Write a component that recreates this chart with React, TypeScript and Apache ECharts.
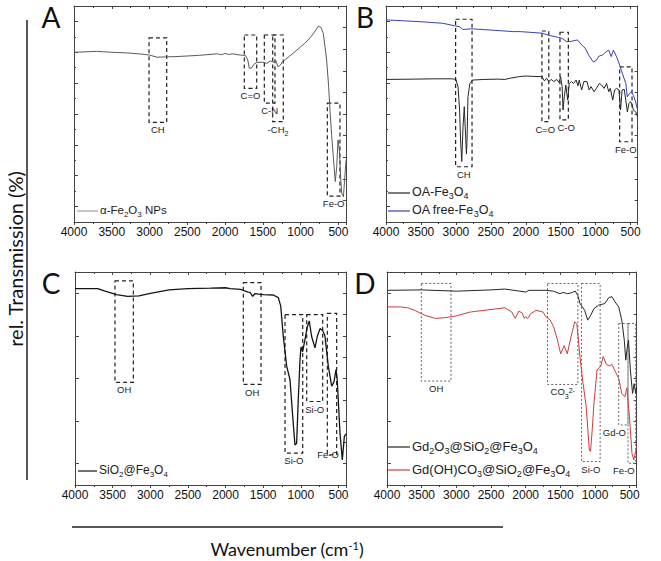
import React, { useEffect, useRef } from 'react';
import * as echarts from 'echarts';

// ---------- data (wavenumber in cm-1, relative transmission in arbitrary units) ----------
const waveA = [4000,3800,3700,3500,3300,3100,3000,2900,2800,2650,2500,2350,2200,2100,2050,2000,1950,1900,1800,1730,1700,1680,1650,1620,1580,1500,1450,1400,1350,1330,1300,1270,1240,1200,1150,1100,1050,1000,950,900,850,800,766,730,700,656,630,612,590,568,542,523,506,488,470,457,434,420,400];
const transA = [5.50,5.52,5.53,5.50,5.48,5.44,5.41,5.34,5.35,5.36,5.38,5.40,5.43,5.45,5.42,5.46,5.43,5.45,5.41,5.40,5.25,4.98,4.99,5.11,5.17,5.18,5.14,5.22,5.17,5.24,5.03,5.08,5.20,5.27,5.37,5.47,5.57,5.68,5.78,5.90,6.05,6.22,6.35,6.30,6.11,5.25,4.40,3.63,2.80,2.12,1.31,1.79,2.66,2.33,1.40,0.93,0.82,1.30,2.00];

const waveB1 = [4000,3600,3300,3050,3000,2969,2947,2933,2916,2898,2880,2867,2849,2840,2827,2800,2760,2600,2400,2300,2222,2100,2000,1900,1769,1733,1702,1671,1636,1600,1556,1524,1502,1480,1467,1449,1427,1413,1400,1378,1347,1316,1280,1253,1236,1200,1169,1124,1093,1067,1022,991,947,916,880,844,813,791,756,729,702,667,644,622,591,569,547,524,502,480,458,427,400];
const transB1 = [4.62,4.63,4.64,4.64,4.62,4.38,3.63,2.66,1.96,3.09,3.74,3.09,2.20,2.70,4.06,4.49,4.60,4.62,4.63,4.62,4.66,4.71,4.73,4.72,4.71,4.57,4.66,4.55,4.62,4.55,4.62,4.52,4.71,4.39,3.63,4.06,4.44,4.17,3.95,4.49,4.55,4.49,4.60,4.41,4.60,4.28,4.55,4.55,4.28,4.39,4.22,4.33,4.49,4.44,4.33,4.49,4.22,4.33,3.95,4.28,4.33,4.28,3.63,4.28,4.30,3.95,3.57,3.84,3.90,3.80,3.62,3.57,3.41];

const waveB2 = [4000,3500,3187,3000,2950,2900,2770,2500,2178,2080,1769,1650,1547,1480,1413,1340,1260,1200,1150,1100,1036,1000,950,902,850,813,778,747,700,658,610,569,547,520,489,460,436,400];
const transB2 = [6.55,6.49,6.44,6.35,6.33,6.24,6.26,6.22,6.17,6.17,6.12,6.04,5.99,5.95,5.84,5.86,5.90,5.74,5.63,5.41,5.19,5.22,5.38,5.41,5.52,5.57,5.36,5.57,5.35,5.09,4.76,4.49,4.06,4.15,4.22,4.10,3.95,3.63];

const waveC = [4000,3700,3600,3450,3300,3150,3000,2750,2500,2200,2000,1941,1800,1700,1675,1640,1609,1560,1498,1366,1299,1267,1233,1188,1144,1108,1078,1056,1034,1011,998,976,945,914,888,856,812,781,745,710,679,635,590,559,533,516,480,449,422,400];
const transC = [4.61,4.61,4.55,4.47,4.43,4.44,4.50,4.58,4.61,4.62,4.63,4.61,4.59,4.53,4.52,4.43,4.49,4.48,4.47,4.46,4.40,4.20,3.49,2.79,2.47,1.61,0.94,0.98,2.00,2.94,3.24,3.13,3.41,3.71,3.85,3.48,3.22,3.49,3.67,3.63,3.49,2.79,2.32,2.42,2.71,2.46,1.22,0.59,1.14,1.20];

const waveD1 = [4000,3500,3000,2500,2300,2000,1952,1700,1600,1507,1461,1394,1328,1284,1248,1216,1150,1105,1060,1016,949,859,801,757,712,658,614,578,556,534,517,490,458,436,413,400];
const transD1 = [4.57,4.58,4.55,4.58,4.60,4.53,4.57,4.57,4.55,4.49,4.52,4.49,4.52,4.55,4.45,4.26,4.10,3.87,3.99,4.14,4.22,4.26,4.40,4.42,4.30,4.18,3.87,3.40,2.93,3.24,3.40,2.70,2.15,2.38,2.15,2.30];

const waveD2 = [4000,3800,3700,3600,3450,3300,3150,3000,2800,2500,2300,2200,2150,2100,2050,2020,2000,1970,1930,1850,1750,1707,1650,1596,1550,1495,1445,1400,1350,1293,1262,1216,1172,1127,1082,1065,1040,1016,971,918,882,837,793,757,703,658,614,569,540,503,467,440,400];
const transD2 = [4.18,4.18,4.16,4.10,3.98,3.91,3.93,3.97,4.06,4.12,4.16,4.06,3.91,4.08,4.04,3.91,3.95,3.91,4.02,4.10,4.06,3.95,3.88,3.71,3.45,3.08,3.27,3.08,3.45,3.83,3.78,2.99,2.38,1.84,0.82,0.79,1.30,1.90,2.70,2.78,3.02,2.83,2.80,2.83,2.65,2.50,2.15,2.07,2.28,1.60,0.74,0.59,0.90];

// annotation boxes: [label, wavenumber from, wavenumber to, upper value, lower value]
const boxesA: [string, number, number, number, number][] = [
  ['{n|CH}', 3007, 2773, 5.97, 3.23],
  ['{n|C=O}', 1746, 1582, 6.06, 4.33],
  ['{n|C-N}', 1481, 1340, 6.06, 3.85],
  ['{n|-CH}{s|2}', 1370, 1230, 6.06, 3.25],
  ['{n|Fe-O}', 647, 480, 3.85, 0.84],
];
const boxesB: [string, number, number, number, number][] = [
  ['{n|CH}', 3004, 2769, 6.57, 1.79],
  ['{n|C=O}', 1769, 1671, 6.19, 3.25],
  ['{n|C-O}', 1511, 1391, 6.15, 3.31],
  ['{n|Fe-O}', 657, 480, 5.03, 2.60],
];
const boxesC: [string, number, number, number, number][] = [
  ['{n|OH}', 3469, 3225, 4.79, 2.41],
  ['{n|OH}', 1764, 1529, 4.75, 2.36],
  ['{n|Si-O}', 1210, 975, 4.00, 0.75],
  ['{n|Si-O}', 922, 710, 4.00, 1.96],
  ['{n|Fe-O}', 648, 524, 4.03, 0.71],
];
const boxesD: [string, number, number, number, number][] = [
  ['{n|OH}', 3505, 3077, 4.73, 2.44],
  ['{n|CO}{s|3}{p|2-}', 1685, 1247, 4.73, 2.36],
  ['{n|Si-O}', 1194, 926, 4.73, 0.55],
  ['{n|Gd-O}', 658, 524, 3.79, 1.41],
  ['{n|Fe-O}', 524, 413, 3.79, 0.51],
];

const FONT = '"Liberation Sans", Arial, sans-serif';
const TFONT = 'Lato, "Open Sans", sans-serif';

const GRIDS = [
  { left: 74, top: 6, width: 272, height: 216 },
  { left: 386, top: 6, width: 270, height: 216 },
  { left: 75, top: 272, width: 271, height: 213 },
  { left: 387, top: 272, width: 269, height: 213 },
];

const AX = '#444';

function xAxes(g: number) {
  const base = {
    type: 'value', gridIndex: g, min: 400, max: 4000, inverse: true,
    splitNumber: 7, minInterval: 500, maxInterval: 500,
    axisLine: { show: true, onZero: false, lineStyle: { color: AX, width: 1 } },
    splitLine: { show: false },
    minorSplitLine: { show: false },
  };
  return [
    {
      ...base, position: 'bottom',
      axisTick: { show: true, inside: false, length: 3, lineStyle: { color: AX } },
      minorTick: { show: true, splitNumber: 2, length: 2, lineStyle: { color: AX } },
      axisLabel: {
        show: true, margin: 4, fontSize: 12, color: '#111', fontFamily: FONT,
        formatter: (v: number) => (v === 400 ? '' : String(v)),
      },
    },
    {
      ...base, position: 'top',
      axisTick: { show: true, inside: true, length: 3, lineStyle: { color: AX } },
      minorTick: { show: true, splitNumber: 2, length: 2, lineStyle: { color: AX } },
      axisLabel: { show: false },
    },
  ];
}

function yAxes(g: number) {
  const tall = g < 2;
  const common = {
    type: 'value', gridIndex: g, min: 0,
    axisLine: { show: true, onZero: false, lineStyle: { color: AX, width: 1 } },
    axisLabel: { show: false },
    splitLine: { show: false },
    minorSplitLine: { show: false },
  };
  return [
    {
      ...common, position: 'left', max: tall ? 7 : 5, interval: 1,
      axisTick: { show: tall, inside: true, length: 2, lineStyle: { color: AX } },
      minorTick: { show: true, splitNumber: 2, length: 4, lineStyle: { color: AX } },
    },
    {
      ...common, position: 'right', max: tall ? 10 : 5, interval: tall ? 1 : 0.5,
      axisTick: { show: true, inside: true, length: 3, lineStyle: { color: AX } },
    },
  ];
}

const pairs = (w: number[], v: number[]) => w.map((x, i) => [x, v[i]]);

const areaRich = {
  n: { fontSize: 9.5, lineHeight: 11, verticalAlign: 'top', fontFamily: FONT, color: '#222' },
  s: { fontSize: 7, lineHeight: 7, verticalAlign: 'top', padding: [6, 0, 0, 0], fontFamily: FONT, color: '#222' },
  p: { fontSize: 7, lineHeight: 7, verticalAlign: 'top', fontFamily: FONT, color: '#222' },
};

function mkArea(boxes: [string, number, number, number, number][], dashed: boolean, offsets: Record<number, number[]> = {}) {
  return {
    silent: true,
    itemStyle: {
      color: 'rgba(0,0,0,0)',
      borderColor: dashed ? '#222' : '#666',
      borderWidth: dashed ? 1.2 : 1,
      borderType: dashed ? [4, 3] : [2, 2],
    },
    label: {
      show: true, position: 'bottom', distance: 2, rich: areaRich,
      formatter: (p: any) => p.name,
    },
    data: boxes.map((b, i) => [
      { name: b[0], xAxis: b[1], yAxis: b[3], label: offsets[i] ? { offset: offsets[i] } : {} },
      { xAxis: b[2], yAxis: b[4] },
    ]),
  };
}

function line(g: number, w: number[], v: number[], color: string, width: number, area?: any) {
  return {
    type: 'line', xAxisIndex: g * 2, yAxisIndex: g * 2, data: pairs(w, v),
    showSymbol: false, symbol: 'none', smooth: false,
    lineStyle: { color, width }, itemStyle: { color },
    markArea: area,
    z: 3,
  };
}

const legRich = (size: number) => ({
  n: { fontSize: size, lineHeight: size + 2, verticalAlign: 'top', fontFamily: FONT, fill: '#222' },
  s: { fontSize: Math.round(size * 0.7), lineHeight: Math.round(size * 0.7), verticalAlign: 'top', padding: [Math.round(size * 0.5), 0, 0, 0], fontFamily: FONT, fill: '#222' },
});

function legend(x1: number, x2: number, y: number, color: string, text: string, size: number) {
  return [
    { type: 'line', shape: { x1, y1: y, x2, y2: y }, style: { stroke: color, lineWidth: 1.2 } },
    {
      type: 'text', x: x2 + 2, y,
      style: { text, rich: legRich(size), align: 'left', verticalAlign: 'middle', fill: '#222' },
    },
  ];
}

function letter(t: string, x: number, y: number) {
  return {
    type: 'text', x, y,
    style: { text: t, font: `28px ${TFONT}`, fill: '#111', align: 'center', verticalAlign: 'middle' },
  };
}

const COLORS = { gray: '#5a5a5a', black: '#262626', blue: '#3a40b8', red: '#cf3c3c' };

const option: any = {
  animation: false,
  backgroundColor: '#fff',
  textStyle: { fontFamily: FONT },
  grid: GRIDS,
  xAxis: [0, 1, 2, 3].flatMap(xAxes),
  yAxis: [0, 1, 2, 3].flatMap(yAxes),
  series: [
    line(0, waveA, transA, COLORS.gray, 1, mkArea(boxesA, true)),
    line(1, waveB2, transB2, COLORS.blue, 1),
    line(1, waveB1, transB1, COLORS.black, 1, mkArea(boxesB, true, { 2: [2, 0] })),
    line(2, waveC, transC, '#151515', 1.3, mkArea(boxesC, true, { 4: [-4, -8] })),
    line(3, waveD1, transD1, COLORS.black, 1, mkArea(boxesD, false, { 3: [-9, 0], 4: [-8, 0] })),
    line(3, waveD2, transD2, COLORS.red, 1),
  ],
  graphic: [
    letter('A', 51, 17),
    letter('B', 365, 17),
    letter('C', 51, 283),
    letter('D', 365, 283),
    ...legend(77, 98, 211, '#a0a0a0', '{n|α-Fe}{s|2}{n|O}{s|3}{n| NPs}', 11.5),
    ...legend(388, 410, 193, COLORS.black, '{n|OA-Fe}{s|3}{n|O}{s|4}', 12.5),
    ...legend(388, 410, 211, COLORS.blue, '{n|OA free-Fe}{s|3}{n|O}{s|4}', 12.5),
    ...legend(78, 97, 471, '#151515', '{n|SiO}{s|2}{n|@Fe}{s|3}{n|O}{s|4}', 12),
    ...legend(388, 410, 447, COLORS.black, '{n|Gd}{s|2}{n|O}{s|3}{n|@SiO}{s|2}{n|@Fe}{s|3}{n|O}{s|4}', 13),
    ...legend(388, 410, 470, COLORS.red, '{n|Gd(OH)CO}{s|3}{n|@SiO}{s|2}{n|@Fe}{s|3}{n|O}{s|4}', 13),
    { type: 'line', shape: { x1: 27, y1: 20, x2: 27, y2: 480 }, style: { stroke: '#222', lineWidth: 1.5 } },
    { type: 'line', shape: { x1: 72, y1: 527, x2: 503, y2: 527 }, style: { stroke: '#222', lineWidth: 1.5 } },
    {
      type: 'text', x: 15, y: 259, rotation: Math.PI / 2,
      style: { text: 'rel. Transmission (%)', font: `20px ${TFONT}`, fill: '#111', align: 'center', verticalAlign: 'middle' },
    },
    {
      type: 'text', x: 287, y: 550,
      style: {
        text: '{t|Wavenumber (cm}{u|-1}{t|)}',
        rich: {
          t: { fontSize: 18, lineHeight: 20, verticalAlign: 'top', fontFamily: TFONT, fill: '#111' },
          u: { fontSize: 11, lineHeight: 11, verticalAlign: 'top', fontFamily: TFONT, fill: '#111' },
        },
        align: 'center', verticalAlign: 'middle',
      },
    },
  ],
};

export default function App() {
  const ref = useRef<HTMLDivElement>(null);
  useEffect(() => {
    const chart = echarts.init(ref.current!, null, { renderer: 'svg' });
    chart.setOption(option);
    return () => chart.dispose();
  }, []);
  return (
    <div
      ref={ref}
      style={{ position: 'absolute', left: 0, top: 0, width: 661, height: 561, background: '#fff' }}
    />
  );
}
